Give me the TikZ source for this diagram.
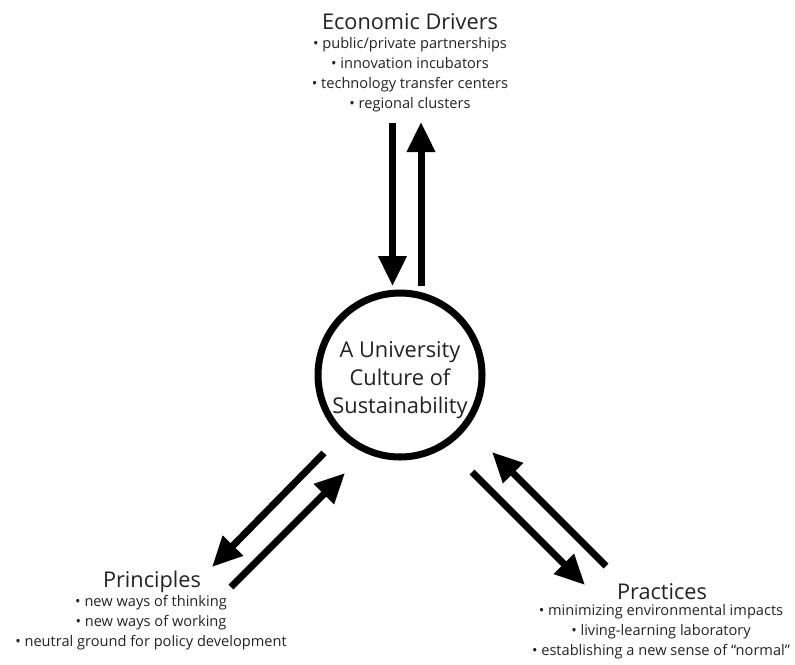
\documentclass[tikz,border=0pt]{standalone}
\usepackage{fontspec}
\setmainfont{Open Sans}
\usetikzlibrary{arrows.meta}
\definecolor{txt}{HTML}{222222}
\tikzset{
  flow/.style={line width=7pt, -{Triangle[width=27pt,length=30pt]}, black},
  title/.style={text=txt, font=\fontsize{21.7}{24}\selectfont, inner sep=0pt},
  items/.style={text=txt, font=\fontsize{14.6}{20.2}\selectfont, align=center, inner sep=0pt},
  hub/.style={circle, draw=black, line width=7pt, minimum size=164pt, inner sep=0pt},
  hubtext/.style={align=center, text=txt, font=\fontsize{21.8}{28}\selectfont, inner sep=0pt}
}
\begin{document}
\begin{tikzpicture}[x=1pt,y=-1pt]
\useasboundingbox (0,0) rectangle (795,664);
\node[hub] (c) at (400,375) {};
\node[hubtext] (ct) at (400,380) {A University\\Culture of\\Sustainability};

\node[title] (ed) at (410,22) {Economic Drivers};
\node[items, anchor=north] (edl) at (410,37) {• public/private partnerships\\• innovation incubators\\• technology transfer centers\\• regional clusters};

\node[title] (pr) at (152,582) {Principles};
\node[items, anchor=north] (prl) at (151,595) {• new ways of thinking\\• new ways of working\\• neutral ground for policy development};

\node[title] (pa) at (662,592) {Practices};
\node[items, anchor=north] (pal) at (661,604) {• minimizing environmental impacts\\• living-learning laboratory\\• establishing a new sense of “normal”};

% top arrows
\coordinate (t1s) at (392.5,123);
\coordinate (t1e) at (392.5,286);
\coordinate (t2s) at (421,286);
\coordinate (t2e) at (421,122);
\draw[flow] (t1s) -- (t1e);
\draw[flow] (t2s) -- (t2e);

% left arrows
\coordinate (l1s) at (324,453);
\coordinate (l1e) at (212,567);
\coordinate (l2s) at (231,587);
\coordinate (l2e) at (345,473);
\draw[flow] (l1s) -- (l1e);
\draw[flow] (l2s) -- (l2e);

% right arrows
\coordinate (r1s) at (472,472);
\coordinate (r1e) at (585,585);
\coordinate (r2s) at (606,566);
\coordinate (r2e) at (492,452);
\draw[flow] (r1s) -- (r1e);
\draw[flow] (r2s) -- (r2e);
\end{tikzpicture}
\end{document}
